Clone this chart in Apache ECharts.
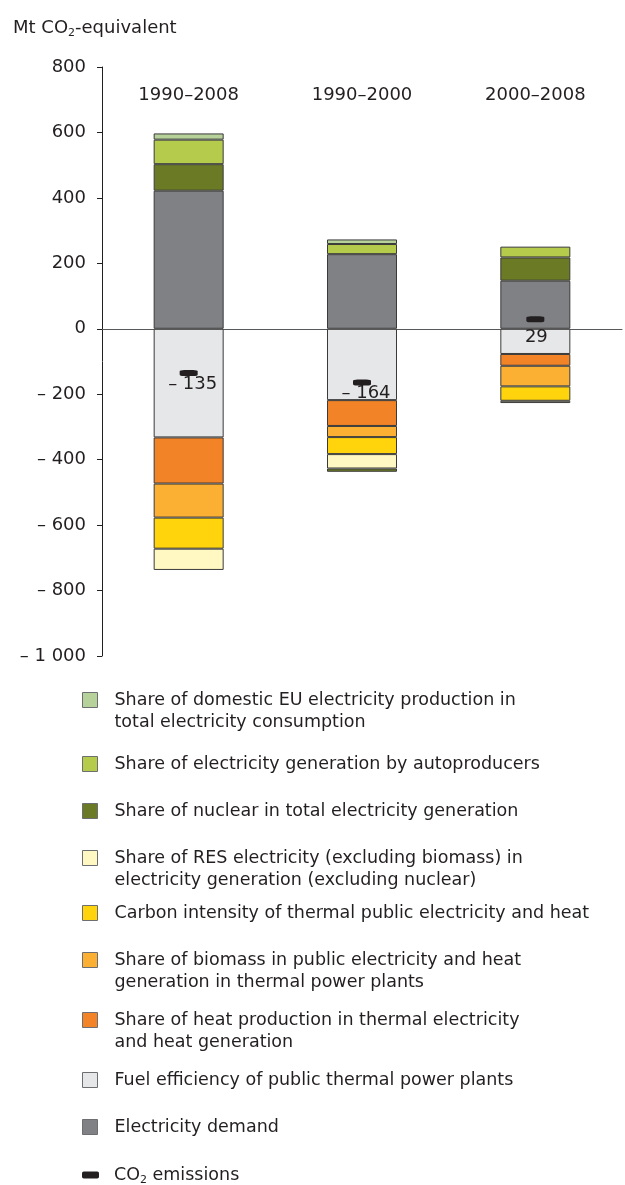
<!DOCTYPE html>
<html>
<head>
<meta charset="utf-8">
<script src="https://cdn.jsdelivr.net/npm/echarts@6/dist/echarts.min.js"></script>
<style>
  html, body { margin: 0; padding: 0; background: #ffffff; }
  #chart { width: 625px; height: 1185px; }
</style>
</head>
<body>
<div id="chart"></div>
<script>
// Decomposition of CO2 emission changes from public electricity and heat production (Mt CO2-eq)
const periods = ['1990–2008', '1990–2000', '2000–2008'];

const electricityDemand  = [422, 228, 147];
const fuelEfficiency     = [-332, -218, -77];
const heatShare          = [-141, -79, -36];
const biomassShare       = [-104, -34, -63];
const carbonIntensity    = [-95, -52, -44];
const resShare           = [-65, -44, -7];
const nuclearShare       = [81, -10, 71];
const autoproducerShare  = [75, 31, 33];
const domesticShare      = [19, 14, null];
const co2Emissions       = [-135, -164, 29];

const yMin = -1000;
const yMax = 800;
const yStep = 200;

const FONT = '"DejaVu Sans", Verdana, sans-serif';
const INK = '#231f20';

const NAMES = {
  domestic: 'Share of domestic EU electricity production in\ntotal electricity consumption',
  auto: 'Share of electricity generation by autoproducers',
  nuclear: 'Share of nuclear in total electricity generation',
  res: 'Share of RES electricity (excluding biomass) in\nelectricity generation (excluding nuclear)',
  carbon: 'Carbon intensity of thermal public electricity and heat',
  biomass: 'Share of biomass in public electricity and heat\ngeneration in thermal power plants',
  heat: 'Share of heat production in thermal electricity\nand heat generation',
  fuel: 'Fuel efficiency of public thermal power plants',
  demand: 'Electricity demand',
  co2: 'CO2 emissions'
};

const COLORS = {
  domestic: '#b7d19a',
  auto: '#b5cb4b',
  nuclear: '#6b7a24',
  res: '#fff8c2',
  carbon: '#ffd40c',
  biomass: '#fbb034',
  heat: '#f28327',
  fuel: '#e6e7e9',
  demand: '#808184',
  co2: '#231f20'
};

// stacking order: positives stack demand -> nuclear -> autoproducers -> domestic,
// negatives stack fuel -> heat -> biomass -> carbon -> RES -> nuclear
const barSeries = [
  ['demand', electricityDemand],
  ['fuel', fuelEfficiency],
  ['heat', heatShare],
  ['biomass', biomassShare],
  ['carbon', carbonIntensity],
  ['res', resShare],
  ['nuclear', nuclearShare],
  ['auto', autoproducerShare],
  ['domestic', domesticShare]
];

// legend rows: key, vertical centre of the swatch, number of text lines
const legendRows = [
  ['domestic', 700, 2],
  ['auto', 764, 1],
  ['nuclear', 811, 1],
  ['res', 858, 2],
  ['carbon', 913, 1],
  ['biomass', 960, 2],
  ['heat', 1020, 2],
  ['fuel', 1080, 1],
  ['demand', 1127, 1],
  ['co2', 1175, 1]
];

const LINE_H = 22;
const co2LabelOffsets = [[4, 11], [4, 11], [1, 18]];

function fmtSigned(v) {
  const a = Math.abs(v);
  const s = a >= 1000 ? String(a).replace(/\B(?=(\d{3})+(?!\d))/g, ' ') : String(a);
  return v < 0 ? '\u2013 ' + s : s;
}

const legends = legendRows.map(([key, cy, lines]) => {
  const isCo2 = key === 'co2';
  const iw = isCo2 ? 17 : 15;
  const ih = isCo2 ? 7 : 15;
  const extra = (lines - 1) * LINE_H;
  const textH = lines * LINE_H + extra;
  const boxTop = Math.min(0, ih / 2 - textH / 2);
  return {
    show: true,
    selectedMode: false,
    orient: 'vertical',
    left: 82,
    top: cy - ih / 2 + boxTop,
    padding: 0,
    data: [NAMES[key]],
    icon: isCo2 ? 'roundRect' : 'rect',
    itemWidth: iw,
    itemHeight: ih,
    itemStyle: isCo2 ? { borderWidth: 0, opacity: 1, color: COLORS.co2 } : { borderColor: '#6d6e71', borderWidth: 1 },
    formatter: isCo2 ? '{a|CO}{s|2}{a| emissions}' : undefined,
    textStyle: {
      fontFamily: FONT,
      fontSize: 17.5,
      fontWeight: 'normal',
      lineHeight: LINE_H,
      color: INK,
      padding: [extra, 0, 0, 32 - iw - 5],
      rich: {
        a: { fontFamily: FONT, fontSize: 17.5, color: INK, lineHeight: LINE_H },
        s: { fontFamily: FONT, fontSize: 11, color: INK, lineHeight: LINE_H, padding: [10, 0, 0, 0] }
      }
    }
  };
});

const series = barSeries.map(([key, values]) => ({
  type: 'bar',
  name: NAMES[key],
  stack: 'total',
  barWidth: 70,
  xAxisIndex: 0,
  data: values,
  itemStyle: { color: COLORS[key], borderColor: '#3a3a3a', borderWidth: 1 },
  emphasis: { disabled: true },
  animation: false
}));

series.push({
  type: 'scatter',
  name: NAMES.co2,
  xAxisIndex: 0,
  symbol: 'roundRect',
  symbolSize: [18, 6],
  z: 10,
  itemStyle: { color: COLORS.co2, opacity: 1 },
  data: co2Emissions.map((v, i) => ({ value: v, label: { offset: co2LabelOffsets[i] } })),
  label: {
    show: true,
    position: 'inside',
    fontFamily: FONT,
    fontSize: 18,
    color: INK,
    opacity: 1,
    formatter: p => fmtSigned(p.value)
  },
  emphasis: { disabled: true },
  animation: false
});

const chart = echarts.init(document.getElementById('chart'), null, { renderer: 'canvas' });
chart.setOption({
  animation: false,
  backgroundColor: '#ffffff',
  title: {
    left: 13,
    top: 17,
    padding: 0,
    text: '{a|Mt CO}{s|2}{a|-equivalent}',
    textStyle: {
      fontWeight: 'normal',
      rich: {
        a: { fontFamily: FONT, fontSize: 18, fontWeight: 'normal', color: INK, lineHeight: 22 },
        s: { fontFamily: FONT, fontSize: 11, fontWeight: 'normal', color: INK, lineHeight: 22, padding: [10, 0, 0, 0] }
      }
    }
  },
  legend: legends,
  grid: { left: 102, right: 3, top: 67, bottom: 529, outerBoundsMode: 'none' },
  xAxis: [
    {
      type: 'category',
      data: periods,
      position: 'bottom',
      axisLine: { show: true, onZero: true, lineStyle: { color: '#58595b', width: 1 } },
      axisTick: { show: false },
      axisLabel: { show: false },
      splitLine: { show: false }
    },
    {
      type: 'category',
      data: periods,
      position: 'top',
      axisLine: { show: false },
      axisTick: { show: false },
      axisLabel: { inside: true, margin: 19, fontFamily: FONT, fontSize: 18, color: INK },
      splitLine: { show: false }
    }
  ],
  yAxis: {
    type: 'value',
    min: yMin,
    max: yMax,
    interval: yStep,
    axisLine: { show: true, lineStyle: { color: INK, width: 1 } },
    axisTick: { show: true, length: 5, lineStyle: { color: INK, width: 1 } },
    splitLine: { show: false },
    axisLabel: { margin: 16, fontFamily: FONT, fontSize: 18, color: INK, formatter: v => fmtSigned(v) }
  },
  series: series
});
</script>
</body>
</html>
